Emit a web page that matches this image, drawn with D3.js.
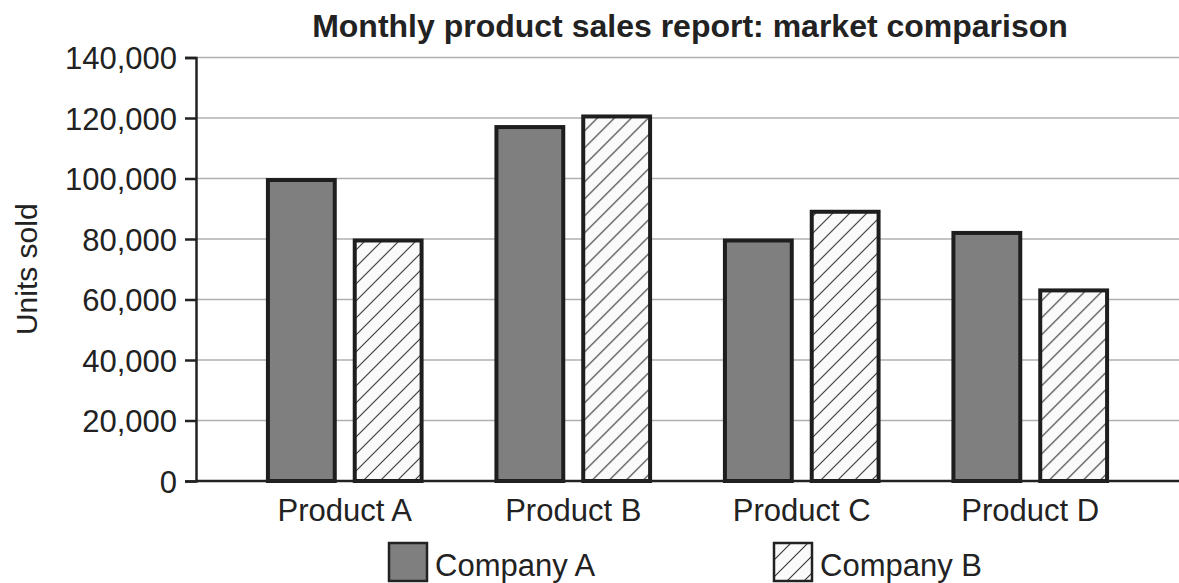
<!DOCTYPE html>
<html>
<head>
<meta charset="utf-8">
<script src="https://cdn.jsdelivr.net/npm/d3@7"></script>
<style>
  body { margin: 0; background: #fff; }
  svg { display: block; font-family: "Liberation Sans", Arial, sans-serif; }
</style>
</head>
<body>
<div id="chart"></div>
<script>
// Chart data
const products = ["Product A", "Product B", "Product C", "Product D"];
const companies = ["Company A", "Company B"];
const companyA = [100000, 117500, 80000, 82500];
const companyB = [80000, 121000, 89500, 63500];
const yTicks = [0, 20000, 40000, 60000, 80000, 100000, 120000, 140000];

const rows = products.map((p, i) => ({ product: p, values: [companyA[i], companyB[i]] }));

const W = 1179, H = 583;
const plotLeft = 196, plotRight = 1179, plotTop = 57.5, plotBottom = 481;

const svg = d3.select("#chart").append("svg")
  .attr("width", W)
  .attr("height", H);

// Hatch pattern for Company B
const defs = svg.append("defs");
const pat = defs.append("pattern")
  .attr("id", "hatch")
  .attr("patternUnits", "userSpaceOnUse")
  .attr("width", 17)
  .attr("height", 17);
pat.append("rect").attr("width", 17).attr("height", 17).attr("fill", "#fafafa");
pat.append("path")
  .attr("d", "M0,17 L17,0 M-4,4 L4,-4 M13,21 L21,13")
  .attr("stroke", "#333")
  .attr("stroke-width", 1.1);

const x = d3.scaleBand()
  .domain(products)
  .range([plotLeft, plotRight])
  .paddingInner(0.31)
  .paddingOuter(0.306);

const xSub = d3.scaleBand()
  .domain(companies)
  .range([0, x.bandwidth()])
  .paddingInner(0.184);

const y = d3.scaleLinear()
  .domain([0, 140000])
  .range([plotBottom, plotTop]);

const fills = ["#7f7f7f", "url(#hatch)"];

// Gridlines
svg.append("g")
  .selectAll("line")
  .data(yTicks.filter(d => d > 0))
  .enter().append("line")
  .attr("x1", plotLeft)
  .attr("x2", plotRight)
  .attr("y1", d => y(d))
  .attr("y2", d => y(d))
  .attr("stroke", "#b0b0b0")
  .attr("stroke-width", 1.5);

// Bars
const groups = svg.append("g")
  .selectAll("g")
  .data(rows)
  .enter().append("g")
  .attr("transform", d => `translate(${x(d.product)},0)`);

groups.selectAll("rect")
  .data(d => d.values.map((v, i) => ({ company: companies[i], value: v, idx: i })))
  .enter().append("rect")
  .attr("x", d => xSub(d.company) + 2)
  .attr("width", xSub.bandwidth() - 4)
  .attr("y", d => y(d.value) + 1.5)
  .attr("height", d => plotBottom - y(d.value) - 1.5)
  .attr("fill", d => fills[d.idx])
  .attr("stroke", "#1e1e1e")
  .attr("stroke-width", 4);

// Y axis
const yAxis = svg.append("g")
  .attr("transform", `translate(${plotLeft},0)`)
  .call(d3.axisLeft(y).tickValues(yTicks).tickSize(11).tickPadding(8).tickFormat(d3.format(",")));
yAxis.select(".domain").attr("stroke", "#222").attr("stroke-width", 2.5);
yAxis.selectAll(".tick line").attr("stroke", "#222").attr("stroke-width", 2.5);
yAxis.selectAll(".tick text")
  .attr("fill", "#222")
  .style("font-size", "31px")
  .attr("dy", "0.36em");

// X axis
const xAxis = svg.append("g")
  .attr("transform", `translate(0,${plotBottom})`)
  .call(d3.axisBottom(x).tickSize(0).tickPadding(18));
xAxis.select(".domain").attr("stroke", "#222").attr("stroke-width", 2.5)
  .attr("d", `M${plotLeft},0H${plotRight}`);
xAxis.selectAll(".tick text")
  .attr("fill", "#222")
  .style("font-size", "31px");

// Title
svg.append("text")
  .attr("x", 690)
  .attr("y", 37)
  .attr("text-anchor", "middle")
  .style("font-size", "32px")
  .style("font-weight", "bold")
  .attr("fill", "#222")
  .text("Monthly product sales report: market comparison");

// Y label
svg.append("text")
  .attr("transform", `translate(37,${(plotTop + plotBottom) / 2}) rotate(-90)`)
  .attr("text-anchor", "middle")
  .style("font-size", "30px")
  .attr("fill", "#222")
  .text("Units sold");

// Legend
const legendX = [389, 774];
const legend = svg.append("g")
  .selectAll("g")
  .data(companies)
  .enter().append("g")
  .attr("transform", (d, i) => `translate(${legendX[i]},543)`);
legend.append("rect")
  .attr("width", 38)
  .attr("height", 38)
  .attr("fill", (d, i) => fills[i])
  .attr("stroke", "#222")
  .attr("stroke-width", 2.5);
legend.append("text")
  .attr("x", 46)
  .attr("y", 33)
  .style("font-size", "31px")
  .attr("fill", "#222")
  .text(d => d);
</script>
</body>
</html>
